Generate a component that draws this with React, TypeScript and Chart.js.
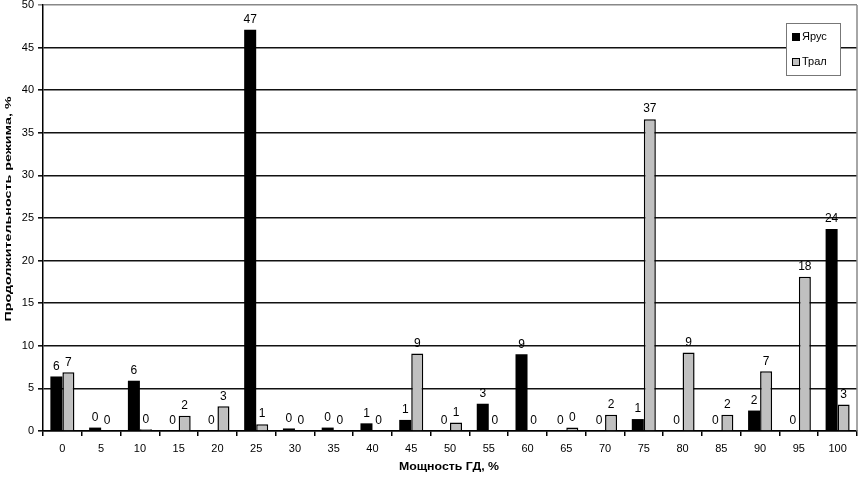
import React, { useEffect, useRef } from "react";
import { Chart, registerables } from "chart.js";

Chart.register(...registerables);

const categories = ["0","5","10","15","20","25","30","35","40","45","50","55","60","65","70","75","80","85","90","95","100"];
const yarusValues = [6.4, 0.4, 5.9, 0, 0, 47.1, 0.3, 0.4, 0.9, 1.3, 0, 3.2, 9.0, 0, 0, 1.4, 0, 0, 2.4, 0, 23.7];
const tralValues = [6.9, 0, 0.2, 1.8, 2.9, 0.8, 0, 0, 0, 9.1, 1.0, 0, 0, 0.4, 1.9, 36.6, 9.2, 1.9, 7.0, 18.1, 3.1];
const yTicks = [0, 5, 10, 15, 20, 25, 30, 35, 40, 45, 50];
const seriesNames = ["Ярус", "Трал"];
const xTitle = "Мощность ГД, %";
const yTitle = "Продолжительность режима, %";

const FONT = "'Liberation Sans', Arial, sans-serif";

const overlay = {
  id: "overlay",
  afterDatasetsDraw(chart: any) {
    const ctx = chart.ctx;
    const area = chart.chartArea;
    ctx.save();
    // data labels
    ctx.fillStyle = "#000";
    ctx.font = `12px ${FONT}`;
    ctx.textAlign = "center";
    ctx.textBaseline = "bottom";
    chart.data.datasets.forEach((ds: any, di: number) => {
      const meta = chart.getDatasetMeta(di);
      meta.data.forEach((bar: any, i: number) => {
        const v = ds.data[i];
        ctx.fillText(String(Math.round(v)), bar.x, bar.y - 4);
      });
    });
    // right border
    ctx.strokeStyle = "#888";
    ctx.lineWidth = 1.5;
    ctx.beginPath();
    ctx.moveTo(area.right, area.top);
    ctx.lineTo(area.right, area.bottom);
    ctx.stroke();
    // legend
    const lx = 786, ly = 23, lw = 54, lh = 52;
    ctx.fillStyle = "#fff";
    ctx.fillRect(lx, ly, lw, lh);
    ctx.strokeStyle = "#777";
    ctx.lineWidth = 1;
    ctx.strokeRect(lx + 0.5, ly + 0.5, lw, lh);
    const items = [
      { name: seriesNames[0], fill: "#000" },
      { name: seriesNames[1], fill: "#c0c0c0" },
    ];
    ctx.font = `11px ${FONT}`;
    ctx.textAlign = "left";
    ctx.textBaseline = "middle";
    items.forEach((it, k) => {
      const cy = ly + 14 + k * 25;
      ctx.fillStyle = it.fill;
      ctx.fillRect(lx + 6, cy - 3.5, 7, 7);
      ctx.strokeStyle = "#000";
      ctx.strokeRect(lx + 6.5, cy - 3.5, 7, 7);
      ctx.fillStyle = "#000";
      ctx.fillText(it.name, lx + 16, cy);
    });
    // axis titles
    ctx.fillStyle = "#000";
    ctx.font = `bold 11px ${FONT}`;
    ctx.textAlign = "center";
    ctx.textBaseline = "middle";
    ctx.save();
    ctx.translate(449, 467);
    ctx.scale(1.12, 1);
    ctx.fillText(xTitle, 0, 0);
    ctx.restore();
    ctx.save();
    ctx.translate(8, 209);
    ctx.rotate(-Math.PI / 2);
    ctx.scale(1.3, 0.9);
    ctx.fillText(yTitle, 0, 0);
    ctx.restore();
    ctx.restore();
  },
};

export default function App() {
  const ref = useRef<HTMLCanvasElement>(null);
  useEffect(() => {
    document.body.style.margin = "0";
    const chart = new Chart(ref.current!, {
      type: "bar",
      data: {
        labels: categories,
        datasets: [
          {
            label: seriesNames[0],
            data: yarusValues,
            backgroundColor: "#000",
            borderColor: "#000",
            borderWidth: 0,
            categoryPercentage: 0.62,
            barPercentage: 1.0,
          },
          {
            label: seriesNames[1],
            data: tralValues,
            backgroundColor: "#c0c0c0",
            borderColor: "#000",
            borderWidth: 1.5,
            borderSkipped: "bottom",
            categoryPercentage: 0.62,
            barPercentage: 1.0,
          },
        ],
      },
      options: {
        animation: false,
        responsive: false,
        layout: { padding: { top: 5, right: 3, left: 0, bottom: 0 } },
        plugins: { legend: { display: false }, tooltip: { enabled: false } },
        scales: {
          x: {
            offset: true,
            grid: {
              offset: true,
              drawOnChartArea: false,
              drawTicks: true,
              tickLength: 5,
              color: "#000",
              lineWidth: 1.5,
            },
            border: { color: "#000", width: 1.5 },
            ticks: {
              color: "#000",
              font: { family: FONT, size: 11 },
              padding: 6,
              maxRotation: 0,
              autoSkip: false,
            },
            afterFit(scale: any) {
              scale.height = 46;
            },
          },
          y: {
            min: 0,
            max: 50,
            afterBuildTicks(scale: any) {
              scale.ticks = yTicks.map((v) => ({ value: v }));
            },
            grid: {
              color: (c: any) => (c.tick && c.tick.value === 50 ? "#888" : "#111"),
              lineWidth: 1.6,
              tickLength: 5,
              drawTicks: true,
            },
            border: { color: "#000", width: 1.5 },
            ticks: {
              color: "#000",
              font: { family: FONT, size: 11 },
              padding: 4,
            },
            afterFit(scale: any) {
              scale.width = 43;
              scale.paddingTop = 0;
              scale.paddingBottom = 0;
            },
          },
        },
      },
      plugins: [overlay],
    });
    return () => chart.destroy();
  }, []);
  return <canvas ref={ref} width={860} height={477} style={{ display: "block" }} />;
}
